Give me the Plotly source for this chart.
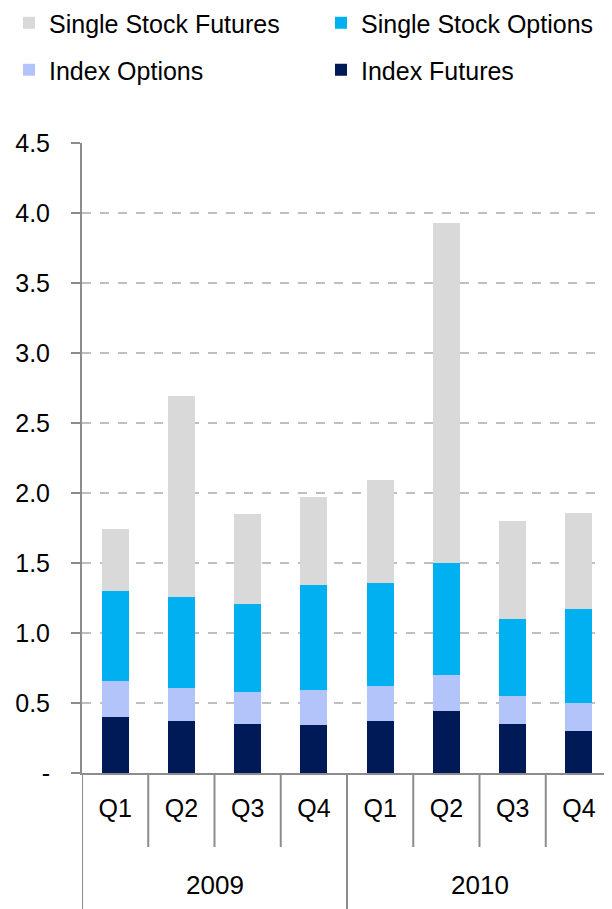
import plotly.graph_objects as go

years = ["2009", "2010"]
quarters = ["Q1", "Q2", "Q3", "Q4", "Q1", "Q2", "Q3", "Q4"]
index_futures = [0.40, 0.37, 0.35, 0.34, 0.37, 0.44, 0.35, 0.30]
index_options = [0.26, 0.24, 0.23, 0.25, 0.25, 0.26, 0.20, 0.20]
single_stock_options = [0.64, 0.65, 0.63, 0.75, 0.74, 0.80, 0.55, 0.67]
single_stock_futures = [0.44, 1.43, 0.64, 0.63, 0.73, 2.43, 0.70, 0.69]
y_tickvals = [0, 0.5, 1.0, 1.5, 2.0, 2.5, 3.0, 3.5, 4.0, 4.5]
y_ticktext = ["-", "0.5", "1.0", "1.5", "2.0", "2.5", "3.0", "3.5", "4.0", "4.5"]

FONT = "Liberation Sans, Arial, sans-serif"
AX = "#8c8c8c"
x = list(range(len(quarters)))

# page has an 8px body margin; figure is sized so it ends at the window edge
W, H = 604, 901
ML, MT, MB, MR = 74, 135, 136, 0
plot_h = H - MT - MB

fig = go.Figure()
fig.add_trace(go.Bar(x=x, y=index_futures, name="Index Futures", showlegend=True,
                     marker=dict(color="#001957", line=dict(width=0)), legend="legend4"))
fig.add_trace(go.Bar(x=x, y=index_options, name="Index Options", showlegend=True,
                     marker=dict(color="#b3c4fb", line=dict(width=0)), legend="legend3"))
fig.add_trace(go.Bar(x=x, y=single_stock_options, name="Single Stock Options", showlegend=True,
                     marker=dict(color="#00b0f0", line=dict(width=0)), legend="legend2"))
fig.add_trace(go.Bar(x=x, y=single_stock_futures, name="Single Stock Futures", showlegend=True,
                     marker=dict(color="#d9d9d9", line=dict(width=0)), legend="legend"))

shapes = []
n = len(quarters)
per_year = n // len(years)
for b in range(n + 1):
    outer = (b % per_year == 0)
    y1 = -MB / plot_h if outer else -74 / plot_h
    shapes.append(dict(type="line", xref="x", yref="paper", x0=b - 0.5, x1=b - 0.5,
                       y0=0, y1=y1, line=dict(color=AX, width=2)))

annotations = []
for i, yr in enumerate(years):
    annotations.append(dict(text=yr, xref="x", yref="paper",
                            x=i * per_year + (per_year - 1) / 2, y=-112 / plot_h,
                            showarrow=False, font=dict(size=26, color="black", family=FONT),
                            xanchor="center", yanchor="middle"))


def leg(xpx, ypx):
    return dict(orientation="h", xref="container", yref="container",
                x=xpx / W, y=1 - ypx / H, xanchor="left", yanchor="middle",
                font=dict(size=25, color="black", family=FONT),
                bgcolor="rgba(0,0,0,0)", itemclick=False, itemdoubleclick=False)


fig.update_layout(
    width=W, height=H,
    margin=dict(l=ML, r=MR, t=MT, b=MB),
    paper_bgcolor="white", plot_bgcolor="white",
    showlegend=True,
    barmode="stack", bargap=0.59,
    font=dict(family=FONT, size=25, color="black"),
    legend=leg(1, 15),
    legend2=leg(313, 15),
    legend3=leg(1, 62),
    legend4=leg(313, 62),
    shapes=shapes, annotations=annotations,
    xaxis=dict(range=[-0.5, n - 0.5], tickvals=x, ticktext=quarters, ticks="",
               showline=True, linecolor=AX, linewidth=2, showgrid=False, zeroline=False,
               ticklabelstandoff=12, tickfont=dict(size=25, color="black", family=FONT)),
    yaxis=dict(range=[0, 4.5], tickvals=y_tickvals, ticktext=y_ticktext,
               ticks="outside", ticklen=9, tickwidth=2, tickcolor=AX,
               showline=True, linecolor=AX, linewidth=2,
               showgrid=True, gridcolor="#bfbfbf", griddash="dash", gridwidth=1.5,
               zeroline=False, ticklabelstandoff=16,
               tickfont=dict(size=25, color="black", family=FONT)),
)

fig.write_html("out.html")
